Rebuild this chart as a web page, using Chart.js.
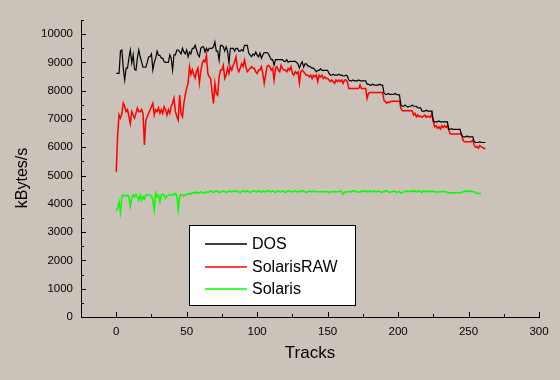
<!DOCTYPE html>
<html><head><meta charset="utf-8">
<script src="https://cdn.jsdelivr.net/npm/chart.js@4"></script>
<style>html,body{margin:0;padding:0;background:#cbc3ba;}canvas{display:block;}</style>
</head><body>
<canvas id="c" width="560" height="380"></canvas>
<script>
const seriesNames = ['DOS', 'SolarisRAW', 'Solaris'];
const seriesColors = ['#000000', '#ff0000', '#00ff00'];
const seriesWidths = [1.2, 1.5, 1.5];
const xTicks = [0, 50, 100, 150, 200, 250, 300];
const yTicks = [0, 1000, 2000, 3000, 4000, 5000, 6000, 7000, 8000, 9000, 10000];
const xTitle = 'Tracks';
const yTitle = 'kBytes/s';

const dos = [8610,8610,8610,9400,9440,8800,8380,8800,8800,9150,
9440,8980,9270,8750,8720,9150,9440,9200,9020,8830,
8830,8830,9000,9200,9200,9300,8730,9000,9150,9400,
9250,9250,9150,9150,9020,9000,9000,9000,9270,9150,
8730,9270,9270,9440,9440,9370,9300,9500,9370,9300,
9440,9200,9370,9300,9500,9500,9610,9440,9270,9200,
9500,9550,9550,9370,9500,9400,9500,9500,9500,9550,
9730,9400,9400,9080,9600,9600,9550,9400,9550,9400,
8980,9500,9500,9500,9400,9500,9500,9400,9400,9450,
9400,9600,9600,9600,9330,9260,9200,9300,9250,9370,
9260,9200,9330,9150,9260,9350,9350,9350,9300,9200,
9100,9100,8900,9100,9100,9100,9100,9100,9100,9040,
9040,9100,9000,9040,9040,9040,9040,9040,9000,8940,
8800,8940,9020,8830,8950,8950,8870,8870,8830,8800,
8800,8740,8670,8720,8720,8780,8720,8720,8720,8720,
8720,8610,8550,8550,8580,8550,8550,8550,8580,8550,
8550,8520,8520,8550,8520,8380,8350,8350,8380,8350,
8350,8350,8380,8350,8350,8350,8350,8350,8230,8230,
8200,8200,8230,8200,8200,8200,8200,8230,8200,8200,
7920,7870,7870,7900,7870,7870,7870,7870,7900,7870,
7850,7850,7490,7450,7450,7490,7450,7420,7450,7450,
7490,7450,7450,7450,7390,7390,7390,7280,7280,7280,
7310,7280,7280,7280,7280,6930,6900,6900,6900,6930,
6900,6900,6900,6900,6900,6900,6630,6630,6660,6630,
6630,6630,6630,6630,6630,6430,6370,6370,6370,6400,
6370,6370,6370,6370,6200,6170,6170,6170,6200,6170,
6170,6170,6170];

const solarisRaw = [5135,6430,7140,7030,7200,7560,7440,7260,7330,7080,
6840,7260,7140,7030,7200,7386,7260,7260,7330,7200,
6080,6960,7080,7200,7330,7440,7560,7140,7330,7260,
7390,7200,7330,7200,7440,7330,7140,7330,7200,7440,
7560,7740,7260,7080,6960,7850,7200,7080,7560,7850,
8090,8270,8850,8570,8740,8570,8450,8680,8800,8270,
8680,8970,9080,9020,9260,8610,8490,8430,7960,7550,
8260,7900,7840,8490,8730,8730,8900,8430,8550,8790,
8610,8850,8730,8900,9020,9200,8790,8670,8790,8960,
8850,9080,8850,8670,8730,8790,8850,8790,8790,8670,
8610,8730,8730,8850,8610,8260,8550,8850,8900,8850,
8730,8790,8380,8790,8850,8730,8670,8900,8790,8730,
8730,8670,8790,8730,8850,8610,8550,8670,8610,8670,
8260,8670,8730,8670,8610,8550,8550,8490,8550,8430,
8550,8490,8550,8320,8550,8490,8550,8430,8490,8430,
8430,8380,8320,8380,8320,8260,8380,8320,8380,8320,
8380,8260,8380,8380,8320,8080,8080,8080,8080,8080,
8080,8080,8080,8200,8080,8080,8080,8080,7730,7900,
7940,7940,7940,7940,7940,7940,7940,7940,7940,7940,
7670,7610,7550,7610,7580,7630,7630,7630,7630,7630,
7630,7630,7375,7290,7290,7290,7290,7290,7290,7290,
7290,7140,7200,7080,7140,7080,7100,7060,7100,7140,
7060,7100,7080,7060,7200,6900,6725,6760,6670,6725,
6640,6760,6700,6760,6700,6760,6600,6470,6470,6470,
6470,6470,6470,6470,6470,6470,6255,6200,6200,6200,
6200,6200,6200,6255,6080,6000,6030,5960,6060,6020,
5990,5960,5960];

const solaris = [3760,3850,4075,3690,4250,4310,4280,4280,4310,4250,
3900,4190,4310,4250,4330,4250,4130,4310,4130,4250,
4160,4310,4310,4310,4310,4280,4130,3780,4390,4250,
4310,4070,4310,4340,4310,4190,4280,4310,4330,4310,
4340,4310,4370,4280,3780,4250,4340,4310,4280,4310,
4330,4350,4370,4340,4390,4370,4400,4420,4370,4400,
4430,4400,4370,4400,4430,4400,4430,4460,4430,4400,
4430,4460,4430,4400,4430,4430,4460,4430,4400,4430,
4460,4430,4430,4460,4430,4460,4430,4430,4400,4430,
4460,4430,4430,4460,4430,4400,4430,4460,4460,4430,
4430,4460,4430,4400,4460,4430,4430,4460,4460,4430,
4430,4460,4430,4400,4430,4460,4430,4430,4460,4430,
4400,4430,4460,4460,4430,4430,4430,4460,4430,4430,
4430,4460,4460,4430,4430,4400,4430,4460,4430,4430,
4460,4430,4430,4430,4430,4430,4430,4430,4430,4430,
4430,4400,4430,4430,4430,4430,4430,4430,4430,4460,
4430,4340,4400,4430,4430,4430,4430,4430,4460,4460,
4430,4430,4430,4400,4460,4460,4430,4460,4430,4430,
4460,4430,4430,4460,4430,4430,4460,4430,4400,4430,
4430,4460,4460,4430,4400,4430,4430,4460,4430,4400,
4430,4430,4380,4400,4430,4430,4460,4430,4430,4460,
4460,4430,4460,4430,4430,4460,4430,4400,4460,4430,
4430,4460,4430,4430,4460,4430,4430,4430,4400,4430,
4430,4430,4430,4430,4430,4400,4390,4390,4390,4390,
4390,4390,4390,4390,4390,4400,4430,4430,4460,4460,
4430,4460,4430,4430,4430,4400,4370,4370,4370,4370];

const FONT = '"Liberation Sans", Arial, sans-serif';
const toPoints = arr => arr.map((v, i) => ({x: i, y: v}));
const allSeries = [dos, solarisRaw, solaris];

const axesPlugin = {
  id: 'oldstyle',
  afterDraw(chart) {
    const ctx = chart.ctx;
    const xs = chart.scales.x, ys = chart.scales.y;
    const a = chart.chartArea;
    ctx.save();
    ctx.strokeStyle = '#000';
    ctx.lineWidth = 1;
    ctx.beginPath();
    for (let v = 0; v <= ys.max + 1e-6; v += 500) {
      const y = Math.round(ys.getPixelForValue(v)) + 0.5;
      const len = (v % 1000 === 0) ? 5 : 3;
      ctx.moveTo(a.left, y); ctx.lineTo(a.left + len, y);
    }
    for (let v = xs.min; v <= xs.max + 1e-6; v += 25) {
      const x = Math.round(xs.getPixelForValue(v)) + 0.5;
      const len = (v % 50 === 0) ? 5 : 3;
      ctx.moveTo(x, a.bottom); ctx.lineTo(x, a.bottom - len);
    }
    ctx.stroke();

    ctx.fillStyle = '#000';
    ctx.textAlign = 'center';
    ctx.textBaseline = 'middle';
    ctx.font = '17px ' + FONT;
    ctx.fillText(xTitle, (a.left + a.right) / 2, 353);
    ctx.save();
    ctx.translate(23, 178);
    ctx.rotate(-Math.PI / 2);
    ctx.font = '16px ' + FONT;
    ctx.fillText(yTitle, 0, 0);
    ctx.restore();

    const bx = 189.5, by = 225.5, bw = 166, bh = 80;
    ctx.fillStyle = '#ffffff';
    ctx.fillRect(bx, by, bw, bh);
    ctx.strokeStyle = '#000';
    ctx.lineWidth = 1;
    ctx.strokeRect(bx, by, bw, bh);
    ctx.font = '16px ' + FONT;
    ctx.textAlign = 'left';
    ctx.textBaseline = 'middle';
    const rows = [244, 267, 289];
    seriesNames.forEach((name, i) => {
      ctx.strokeStyle = seriesColors[i];
      ctx.lineWidth = 1.4;
      ctx.beginPath(); ctx.moveTo(205, rows[i]); ctx.lineTo(247, rows[i]); ctx.stroke();
      ctx.fillStyle = '#000';
      ctx.fillText(name, 252, rows[i] + 1);
    });
    ctx.restore();
  }
};

new Chart(document.getElementById('c'), {
  type: 'line',
  data: {
    datasets: seriesNames.map((name, i) => ({
      label: name,
      data: toPoints(allSeries[i]),
      borderColor: seriesColors[i],
      backgroundColor: seriesColors[i],
      borderWidth: seriesWidths[i],
      pointRadius: 0,
      tension: 0,
      fill: false
    }))
  },
  options: {
    responsive: false,
    animation: false,
    devicePixelRatio: 1,
    parsing: false,
    layout: {padding: {left: 0, top: 20, right: 21, bottom: 0}},
    plugins: {legend: {display: false}, tooltip: {enabled: false}},
    scales: {
      x: {
        type: 'linear', min: -25, max: 300,
        afterBuildTicks: s => { s.ticks = xTicks.map(v => ({value: v})); },
        afterFit: s => { s.height = 63; },
        grid: {display: false, drawTicks: false},
        border: {display: true, color: '#000', width: 1},
        ticks: {color: '#000', padding: 8, maxRotation: 0, autoSkip: false,
                font: {family: FONT, size: 11.5}, callback: v => String(v)}
      },
      y: {
        type: 'linear', min: 0, max: 10500,
        afterBuildTicks: s => { s.ticks = yTicks.map(v => ({value: v})); },
        afterFit: s => { s.width = 81; },
        grid: {display: false, drawTicks: false},
        border: {display: true, color: '#000', width: 1},
        ticks: {color: '#000', padding: 8, autoSkip: false,
                font: {family: FONT, size: 11.5}, callback: v => String(v)}
      }
    }
  },
  plugins: [axesPlugin]
});
</script>
</body></html>
